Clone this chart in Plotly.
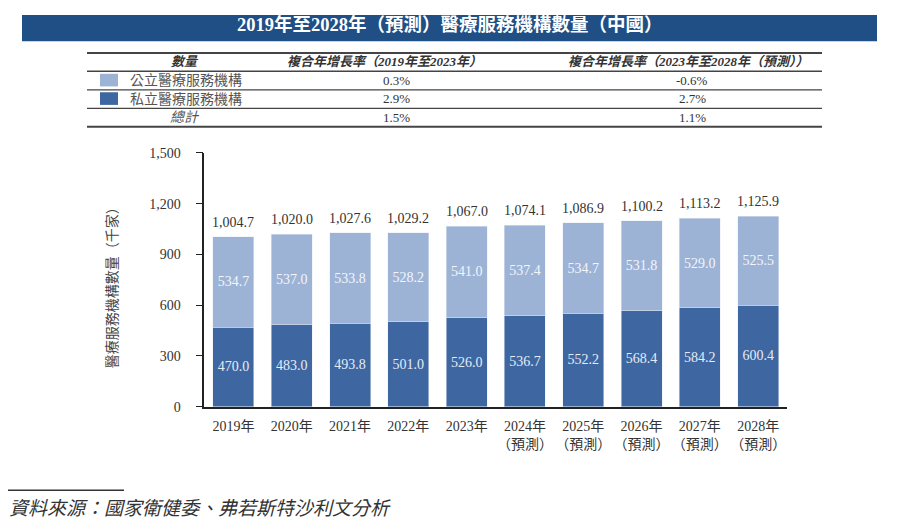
import plotly.graph_objects as go

# chart data
years = ["2019年", "2020年", "2021年", "2022年", "2023年",
         "2024年<br>（預測）", "2025年<br>（預測）", "2026年<br>（預測）",
         "2027年<br>（預測）", "2028年<br>（預測）"]
public_vals = [534.7, 537.0, 533.8, 528.2, 541.0, 537.4, 534.7, 531.8, 529.0, 525.5]
private_vals = [470.0, 483.0, 493.8, 501.0, 526.0, 536.7, 552.2, 568.4, 584.2, 600.4]
totals = [1004.7, 1020.0, 1027.6, 1029.2, 1067.0, 1074.1, 1086.9, 1100.2, 1113.2, 1125.9]
y_ticks = [0, 300, 600, 900, 1200, 1500]

# CAGR table
row_names = ["公立醫療服務機構", "私立醫療服務機構", "總計"]
cagr_hist = ["0.3%", "2.9%", "1.5%"]
cagr_fcst = ["-0.6%", "2.7%", "1.1%"]

LIGHT = "#9db3d6"
DARK = "#3e67a2"
NAVY = "#1f4f85"
SERIF = "Liberation Serif, Noto Sans CJK TC, serif"
W, H = 900, 532
OFF = 8  # page body margin


def px_x(x):
    return (x - OFF) / W


def px_y(y):
    return 1 - (y - OFF) / H


def note(text, x, y, size, color="#333333", xanchor="center"):
    fig.add_annotation(text=text, xref="paper", yref="paper", x=px_x(x), y=px_y(y),
                       xanchor=xanchor, yanchor="middle", showarrow=False,
                       font=dict(family=SERIF, size=size, color=color))


fig = go.Figure()

fig.add_trace(go.Bar(
    x=years, y=private_vals, name="私立醫療服務機構", marker_color=DARK,
    text=[f"{v:.1f}" for v in private_vals], textposition="inside",
    insidetextanchor="middle", textangle=0,
    textfont=dict(family=SERIF, size=14, color="#e6ecf5"),
))
fig.add_trace(go.Bar(
    x=years, y=public_vals, name="公立醫療服務機構", marker_color=LIGHT,
    text=[f"{v:.1f}" for v in public_vals], textposition="inside",
    insidetextanchor="middle", textangle=0,
    textfont=dict(family=SERIF, size=14, color="#f2f5fa"),
))

# totals above bars
for cat, tot in zip(years, totals):
    fig.add_annotation(x=cat, y=tot, text=f"{tot:,.1f}", showarrow=False,
                       yanchor="bottom", yshift=5,
                       font=dict(family=SERIF, size=14, color="#333333"))

fig.update_layout(
    width=W, height=H, barmode="stack", bargap=0.297, showlegend=False,
    margin=dict(l=0, r=0, t=0, b=0),
    paper_bgcolor="white", plot_bgcolor="white",
    font=dict(family=SERIF, color="#333333"),
    xaxis=dict(domain=[px_x(204.3), px_x(787.3)], showline=True, linecolor="#222222",
               linewidth=1.5, ticks="", tickfont=dict(size=14, color="#333333"),
               ticklabelstandoff=6),
    yaxis=dict(domain=[px_y(411), px_y(150)], range=[0, 1500], tickvals=y_ticks,
               tickformat=",d", showgrid=False, zeroline=False, showline=True,
               linecolor="#222222", linewidth=1.5, ticks="outside", ticklen=7,
               tickcolor="#222222", tickfont=dict(size=14, color="#333333"),
               ticklabelstandoff=12),
)

# title bar
fig.add_shape(type="rect", xref="paper", yref="paper", x0=px_x(22), x1=px_x(877),
              y0=px_y(35), y1=1, fillcolor=NAVY, line_width=0, layer="below")
note("<b>2019年至2028年（預測）醫療服務機構數量（中國）</b>", 450, 18, 18.5, "white")

# table lines
for yy, lw in [(47, 2), (66, 1.5), (85, 1.2), (104, 1.2), (123, 2)]:
    fig.add_shape(type="line", xref="paper", yref="paper", x0=px_x(87), x1=px_x(822),
                  y0=px_y(yy), y1=px_y(yy), line=dict(color="#444444", width=lw))

headers = [("數量", 185), ("複合年增長率（2019年至2023年）", 384),
           ("複合年增長率（2023年至2028年（預測））", 688)]
for txt, xx in headers:
    note(f"<b><i>{txt}</i></b>", xx, 56, 13)

row_y = [75, 94, 113]
swatches = [LIGHT, DARK, None]
for i, name in enumerate(row_names):
    yy = row_y[i]
    if swatches[i]:
        fig.add_shape(type="rect", xref="paper", yref="paper", x0=px_x(100), x1=px_x(118),
                      y0=px_y(yy + 6.5), y1=px_y(yy - 6.5), fillcolor=swatches[i],
                      line_width=0)
        note(name, 128, yy, 14, "#555555", xanchor="left")
    else:
        note(f"<i>{name}</i>", 185, yy, 14, "#555555")
    note(cagr_hist[i], 396, yy, 13)
    note(cagr_fcst[i], 692, yy, 13)

# y axis title
fig.add_annotation(text="醫療服務機構數量（千家）", xref="paper", yref="paper",
                   x=px_x(112), y=px_y(285), textangle=-90, showarrow=False,
                   xanchor="center", yanchor="middle",
                   font=dict(family=SERIF, size=14, color="#444444"))

# source footer
fig.add_shape(type="line", xref="paper", yref="paper", x0=px_x(7), x1=px_x(124),
              y0=px_y(497), y1=px_y(497), line=dict(color="#333333", width=1.5))
note("<i>資料來源：國家衛健委、弗若斯特沙利文分析</i>", 7, 516, 19, xanchor="left")

fig.write_html("out.html")
